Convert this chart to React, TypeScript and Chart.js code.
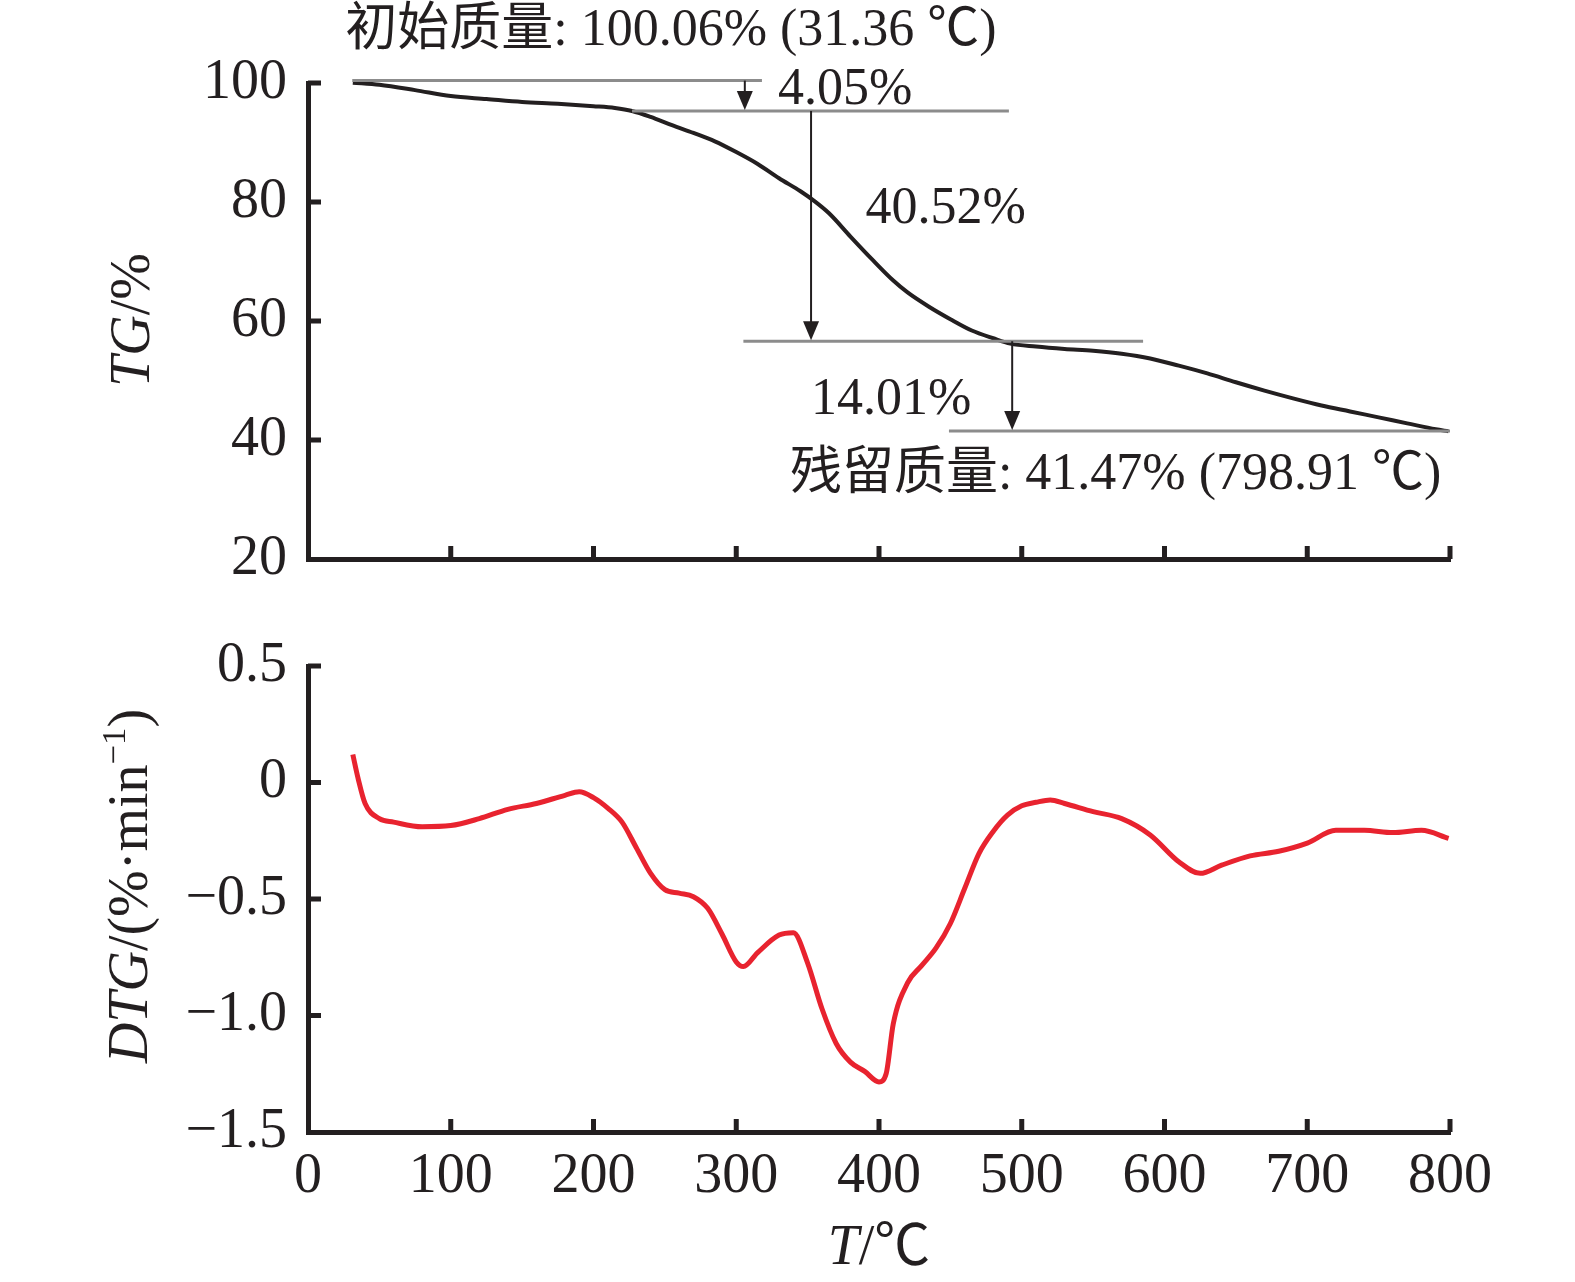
import React, { useEffect, useRef } from "react";
import { Chart, registerables, Plugin } from "chart.js";

Chart.register(...registerables);

const FONT = '"Liberation Serif", "Times New Roman", "Noto Sans CJK SC", serif';
const INK = "#231f20";
const RED = "#e8232f";
const GREY = "#8c8c8c";

const W = 1575;
const TOP_H = 600;
const BOT_H = 682;

// axes
const xTicks = [0, 100, 200, 300, 400, 500, 600, 700, 800];
const xTickLabels = ["0", "100", "200", "300", "400", "500", "600", "700", "800"];
const tgTicks = [20, 40, 60, 80, 100];
const tgTickLabels = ["20", "40", "60", "80", "100"];
const dtgTicks = [-1.5, -1, -0.5, 0, 0.5];
const dtgTickLabels = ["\u22121.5", "\u22121.0", "\u22120.5", "0", "0.5"];

// TG curve (T in °C, mass %)
const tgTemp = [31.4, 50, 75, 100, 125, 150, 175, 200, 215, 227, 240, 255, 270, 285, 300, 315, 330, 345, 355, 365, 380, 395, 410, 420, 435, 450, 465, 480, 492, 510, 530, 550, 570, 590, 610, 630, 650, 670, 690, 710, 730, 750, 770, 790, 798.9];
const tgMass = [100.06, 99.7, 98.8, 97.8, 97.3, 96.8, 96.5, 96.1, 95.8, 95.3, 94.3, 92.9, 91.6, 90.2, 88.4, 86.4, 84.0, 81.8, 80.1, 78.1, 74.2, 70.4, 66.8, 64.8, 62.4, 60.3, 58.4, 57.1, 56.2, 55.7, 55.3, 55.0, 54.5, 53.7, 52.5, 51.2, 49.7, 48.3, 47.0, 45.8, 44.8, 43.8, 42.8, 41.8, 41.47];

// DTG curve (T in °C, %/min)
const dtgTemp = [31.4, 35, 40, 50, 60, 80, 100, 120, 140, 160, 180, 190, 200, 210, 220, 230, 240, 250, 260, 270, 280, 290, 300, 305, 315, 330, 340, 350, 360, 370, 380, 390, 400, 405, 410, 420, 430, 440, 450, 460, 470, 480, 490, 500, 510, 520, 530, 550, 570, 590, 610, 625, 640, 660, 680, 700, 720, 740, 760, 780, 799];
const dtgRate = [0.12, 0.02, -0.09, -0.155, -0.17, -0.19, -0.185, -0.155, -0.115, -0.09, -0.055, -0.04, -0.065, -0.11, -0.17, -0.28, -0.39, -0.46, -0.475, -0.49, -0.54, -0.65, -0.77, -0.79, -0.73, -0.655, -0.645, -0.775, -0.97, -1.12, -1.2, -1.24, -1.285, -1.25, -1.035, -0.86, -0.785, -0.71, -0.605, -0.455, -0.305, -0.21, -0.14, -0.1, -0.085, -0.075, -0.09, -0.125, -0.155, -0.225, -0.34, -0.39, -0.355, -0.315, -0.295, -0.26, -0.205, -0.205, -0.215, -0.205, -0.24];

// mass-loss step markers on the TG panel
const stepLevel = [100.4, 95.3, 56.6, 41.5];
const stepFrom = [31, 227, 305, 449];
const stepTo = [318, 491, 585, 800];
const arrowTemp = [306, 352.4, 493.3];

const notes = [
  { text: "初始质量: 100.06% (31.36 ℃)", x: 26.1, y: 106.4 },
  { text: "4.05%", x: 329.2, y: 96.4 },
  { text: "40.52%", x: 390.5, y: 76.4 },
  { text: "14.01%", x: 352.4, y: 44.4 },
  { text: "残留质量: 41.47% (798.91 ℃)", x: 337.6, y: 31.8 },
];

type Part = { t: string; it?: boolean; sup?: boolean };

function font(size: number, italic?: boolean) {
  return `${italic ? "italic " : ""}${size}px ${FONT}`;
}

function drawParts(ctx: CanvasRenderingContext2D, parts: Part[], size: number) {
  const widths = parts.map((p) => {
    ctx.font = font(p.sup ? size * 0.62 : size, p.it);
    return ctx.measureText(p.t).width;
  });
  const total = widths.reduce((a, b) => a + b, 0);
  let x = -total / 2;
  parts.forEach((p, i) => {
    ctx.font = font(p.sup ? size * 0.62 : size, p.it);
    ctx.fillText(p.t, x, p.sup ? -size * 0.4 : 0);
    x += widths[i];
  });
}

const innerTicks: Plugin<"line"> = {
  id: "innerTicks",
  afterDraw(chart) {
    const { ctx, chartArea, scales } = chart;
    ctx.save();
    ctx.strokeStyle = INK;
    ctx.lineWidth = 5;
    ctx.beginPath();
    scales.x.ticks.forEach((t) => {
      if (t.value === 0) return;
      const px = scales.x.getPixelForValue(t.value);
      ctx.moveTo(px, chartArea.bottom);
      ctx.lineTo(px, chartArea.bottom - 13);
    });
    scales.y.ticks.forEach((t) => {
      const py = scales.y.getPixelForValue(t.value);
      if (py > chartArea.bottom - 2) return;
      ctx.moveTo(chartArea.left, py);
      ctx.lineTo(chartArea.left + 13, py);
    });
    ctx.stroke();
    ctx.restore();
  },
};

function yTitle(parts: Part[], base: number, centre: number): Plugin<"line"> {
  return {
    id: "yTitle",
    afterDraw(chart) {
      const ctx = chart.ctx;
      ctx.save();
      ctx.fillStyle = INK;
      ctx.textBaseline = "alphabetic";
      ctx.translate(base, centre);
      ctx.rotate(-Math.PI / 2);
      drawParts(ctx, parts, 56);
      ctx.restore();
    },
  };
}

const xTitle: Plugin<"line"> = {
  id: "xTitle",
  afterDraw(chart) {
    const { ctx, chartArea } = chart;
    ctx.save();
    ctx.fillStyle = INK;
    ctx.textBaseline = "alphabetic";
    ctx.translate((chartArea.left + chartArea.right) / 2, chartArea.bottom + 132);
    drawParts(ctx, [{ t: "T", it: true }, { t: "/℃" }], 56);
    ctx.restore();
  },
};

const steps: Plugin<"line"> = {
  id: "steps",
  afterDatasetsDraw(chart) {
    const { ctx, scales } = chart;
    const X = (v: number) => scales.x.getPixelForValue(v);
    const Y = (v: number) => scales.y.getPixelForValue(v);
    ctx.save();
    ctx.strokeStyle = GREY;
    ctx.lineWidth = 3;
    stepLevel.forEach((lv, i) => {
      ctx.beginPath();
      ctx.moveTo(X(stepFrom[i]), Y(lv));
      ctx.lineTo(X(stepTo[i]), Y(lv));
      ctx.stroke();
    });
    ctx.strokeStyle = INK;
    ctx.fillStyle = INK;
    ctx.lineWidth = 2;
    arrowTemp.forEach((t, i) => {
      const x = X(t);
      const y0 = Y(stepLevel[i]);
      const y1 = Y(stepLevel[i + 1]);
      const head = 20;
      ctx.beginPath();
      ctx.moveTo(x, y0);
      ctx.lineTo(x, y1 - head + 2);
      ctx.stroke();
      ctx.beginPath();
      ctx.moveTo(x - 8, y1 - head);
      ctx.lineTo(x + 8, y1 - head);
      ctx.lineTo(x, y1 - 1);
      ctx.closePath();
      ctx.fill();
    });
    ctx.font = font(52);
    ctx.textAlign = "left";
    ctx.textBaseline = "alphabetic";
    notes.forEach((n) => ctx.fillText(n.text, X(n.x), Y(n.y)));
    ctx.restore();
  },
};

function xScale(labels: boolean, height: number) {
  return {
    type: "linear" as const,
    min: 0,
    max: 800,
    afterBuildTicks: (s: any) => {
      s.ticks = xTicks.map((v) => ({ value: v }));
    },
    afterFit: (s: any) => {
      s.height = height;
      s.paddingLeft = 0;
      s.paddingRight = 0;
      s.paddingTop = 0;
      s.paddingBottom = 0;
    },
    grid: { display: false, drawTicks: false },
    border: { display: true, color: INK, width: 5 },
    ticks: {
      display: labels,
      padding: 12,
      color: INK,
      maxRotation: 0,
      autoSkip: false,
      font: { family: FONT, size: 56 },
      callback: (_v: any, i: number) => xTickLabels[i],
    },
  };
}

function yScale(min: number, max: number, values: number[], labels: string[]) {
  return {
    type: "linear" as const,
    min,
    max,
    afterBuildTicks: (s: any) => {
      s.ticks = values.map((v) => ({ value: v }));
    },
    afterFit: (s: any) => {
      s.width = 308;
      s.paddingLeft = 0;
      s.paddingRight = 0;
      s.paddingTop = 0;
      s.paddingBottom = 0;
    },
    grid: { display: false, drawTicks: false },
    border: { display: true, color: INK, width: 5 },
    ticks: {
      padding: 21,
      color: INK,
      autoSkip: false,
      font: { family: FONT, size: 56 },
      callback: (_v: any, i: number) => labels[i],
    },
  };
}

export default function App() {
  const topRef = useRef<HTMLCanvasElement>(null);
  const botRef = useRef<HTMLCanvasElement>(null);

  useEffect(() => {
    if (!topRef.current || !botRef.current) return;

    const tg = new Chart(topRef.current, {
      type: "line",
      data: {
        datasets: [
          {
            data: tgTemp.map((t, i) => ({ x: t, y: tgMass[i] })),
            borderColor: INK,
            borderWidth: 4,
            pointRadius: 0,
            cubicInterpolationMode: "monotone",
            clip: false,
          },
        ],
      },
      options: {
        responsive: false,
        animation: false,
        layout: { padding: { top: 83, right: 125, left: 0, bottom: 0 } },
        scales: {
          x: xScale(false, TOP_H - 559),
          y: yScale(20, 100, tgTicks, tgTickLabels),
        },
        plugins: { legend: { display: false }, tooltip: { enabled: false } },
      },
      plugins: [steps, innerTicks, yTitle([{ t: "TG", it: true }, { t: "/%" }], 149, 320)],
    });

    const dtg = new Chart(botRef.current, {
      type: "line",
      data: {
        datasets: [
          {
            data: dtgTemp.map((t, i) => ({ x: t, y: dtgRate[i] })),
            borderColor: RED,
            borderWidth: 5,
            pointRadius: 0,
            cubicInterpolationMode: "monotone",
            clip: false,
          },
        ],
      },
      options: {
        responsive: false,
        animation: false,
        layout: { padding: { top: 66, right: 125, left: 0, bottom: 0 } },
        scales: {
          x: xScale(true, BOT_H - 532),
          y: yScale(-1.5, 0.5, dtgTicks, dtgTickLabels),
        },
        plugins: { legend: { display: false }, tooltip: { enabled: false } },
      },
      plugins: [
        innerTicks,
        xTitle,
        yTitle([{ t: "DTG", it: true }, { t: "/(%·min" }, { t: "\u22121", sup: true }, { t: ")" }], 147, 286),
      ],
    });

    return () => {
      tg.destroy();
      dtg.destroy();
    };
  }, []);

  return (
    <div style={{ position: "absolute", left: 0, top: 0, width: W, height: TOP_H + BOT_H, background: "#fff" }}>
      <canvas ref={topRef} width={W} height={TOP_H} style={{ display: "block", width: W, height: TOP_H }} />
      <canvas ref={botRef} width={W} height={BOT_H} style={{ display: "block", width: W, height: BOT_H }} />
    </div>
  );
}
